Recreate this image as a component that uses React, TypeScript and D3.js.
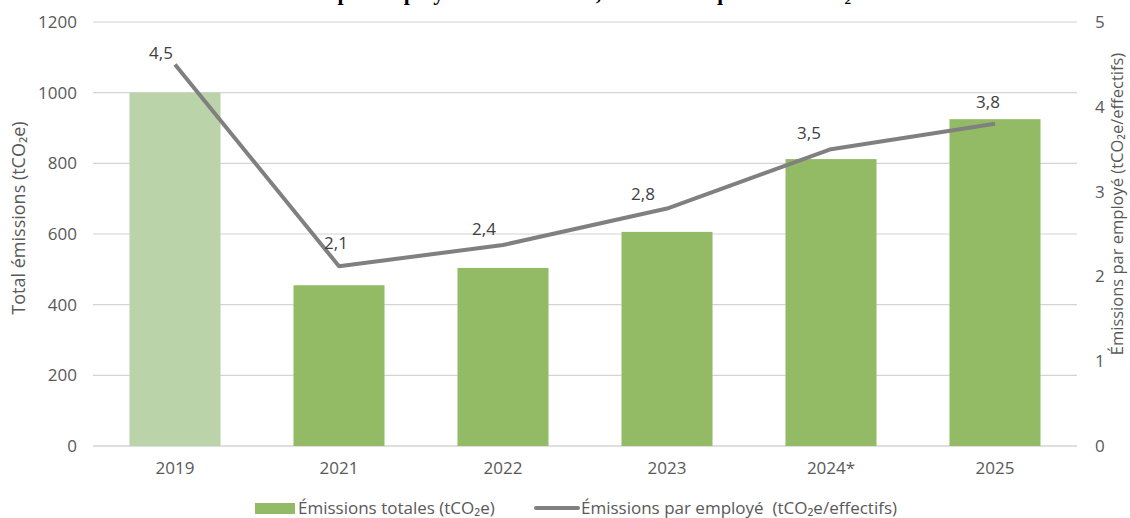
import * as d3 from 'd3';

const years = ['2019', '2021', '2022', '2023', '2024*', '2025'];
const totalEmissions = [1000, 455, 504, 606, 812, 925];
const perEmployee = [4.5, 2.12, 2.37, 2.8, 3.5, 3.8];
const leftTicks = [0, 200, 400, 600, 800, 1000, 1200];
const rightTicks = [0, 1, 2, 3, 4, 5];

// Excel-style hand-placed label nudges (dx, dy) from each point
const labelNudge: [number, number][] = [
  [-14, -11],
  [-3, -23],
  [-19, -16],
  [-24, -15],
  [-22, -16],
  [-7, -22],
];

const width = 1130;
const height = 518;
const left = 93;
const right = 1077;
const top = 22;
const bottom = 446;

const tickFont = "'Open Sans', sans-serif";
const tickColor = '#595959';

export default function App() {
  const x = d3.scaleBand<string>().domain(years).range([left, right]).paddingInner(0.445).paddingOuter(0.2225);
  const yLeft = d3.scaleLinear().domain([0, 1200]).range([bottom, top]);
  const yRight = d3.scaleLinear().domain([0, 5]).range([bottom, top]);

  const cx = (i: number) => (x(years[i]) as number) + x.bandwidth() / 2;

  const line = d3
    .line<number>()
    .x((_, i) => cx(i))
    .y((d) => yRight(d));

  const fmt = (v: number) => v.toFixed(1).replace('.', ',');

  return (
    <svg width={width} height={height} style={{ position: 'absolute', left: 0, top: 0 }}>
      <rect width={width} height={height} fill='#ffffff' />
      <text
        x={500}
        y={0}
        textAnchor='middle'
        style={{ fontFamily: "'Liberation Serif', serif", fontWeight: 'bold', fontSize: 22, fill: '#000' }}
      >
        Émissions totales et par employé de la structure, en tonnes équivalent tCO₂
      </text>

      <g>
        {leftTicks.map((t) => (
          <line key={t} x1={left} x2={right} y1={yLeft(t)} y2={yLeft(t)} stroke='#d4d4d4' strokeWidth={t === 0 ? 1.6 : 1.2} />
        ))}
      </g>

      <g>
        {totalEmissions.map((v, i) => (
          <rect
            key={years[i]}
            x={x(years[i])}
            y={yLeft(v)}
            width={x.bandwidth()}
            height={bottom - yLeft(v)}
            fill={i === 0 ? '#bad3a9' : '#93bb65'}
          />
        ))}
      </g>

      <path d={line(perEmployee) || ''} fill='none' stroke='#808080' strokeWidth={4} strokeLinejoin='round' />

      <g style={{ fontFamily: tickFont, fontSize: 17, fill: '#404040' }}>
        {perEmployee.map((v, i) => (
          <text key={i} x={cx(i) + labelNudge[i][0]} y={yRight(v) + labelNudge[i][1]} textAnchor='middle' dy='0.35em'>
            {fmt(v)}
          </text>
        ))}
      </g>

      <g style={{ fontFamily: tickFont, fontSize: 17, fill: tickColor }}>
        {leftTicks.map((t) => (
          <text key={t} x={77} y={yLeft(t)} dy='0.35em' textAnchor='end'>
            {t}
          </text>
        ))}
        {rightTicks.map((t) => (
          <text key={t} x={1095} y={yRight(t)} dy='0.35em' textAnchor='start'>
            {t}
          </text>
        ))}
        {years.map((yr, i) => (
          <text key={yr} x={cx(i)} y={468} dy='0.35em' textAnchor='middle'>
            {yr}
          </text>
        ))}
        <text transform={`translate(19, 218) rotate(-90)`} textAnchor='middle' dy='0.35em' style={{ fontSize: 18 }}>
          Total émissions (tCO₂e)
        </text>
        <text transform={`translate(1117, 204) rotate(-90)`} textAnchor='middle' dy='0.35em' style={{ fontSize: 16.5 }}>
          Émissions par employé (tCO₂e/effectifs)
        </text>
      </g>

      <g style={{ fontFamily: tickFont, fontSize: 17, fill: tickColor }}>
        <rect x={255} y={503} width={40} height={11} fill='#93bb65' />
        <text x={298} y={508} dy='0.35em'>
          Émissions totales (tCO₂e)
        </text>
        <line x1={536} x2={578} y1={508} y2={508} stroke='#808080' strokeWidth={4} strokeLinecap='round' />
        <text x={581} y={508} dy='0.35em'>
          Émissions par employé&nbsp;&nbsp;(tCO₂e/effectifs)
        </text>
      </g>
    </svg>
  );
}
